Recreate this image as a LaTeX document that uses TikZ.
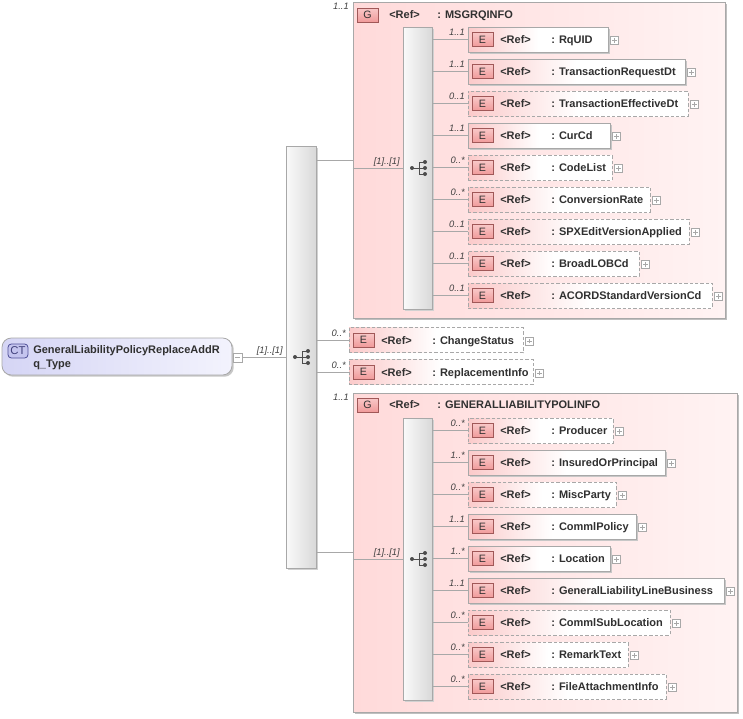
\documentclass[tikz,border=0pt]{standalone}
\usepackage{fontspec}
\setmainfont{Liberation Sans}
\usetikzlibrary{fit,shadows,calc}
\definecolor{ln}{HTML}{A8A8A8}
\definecolor{grpL}{HTML}{FFDADA}
\definecolor{grpR}{HTML}{FFF3F3}
\definecolor{elL}{HTML}{FBCACA}
\definecolor{badgeT}{HTML}{F9C8C8}
\definecolor{badgeB}{HTML}{F09A9A}
\definecolor{badgeD}{HTML}{A05858}
\definecolor{ctL}{HTML}{D5D5F5}
\definecolor{ctR}{HTML}{F3F3FD}
\definecolor{ctbF}{HTML}{C4C4EE}
\definecolor{ctbD}{HTML}{505098}
\definecolor{txt}{HTML}{303030}
\tikzset{
  x=0.75pt, y=-0.75pt,
  every node/.style={text=txt},
  lbl/.style={anchor=west, inner sep=0pt, text height=6pt, text depth=0pt,
    font=\fontsize{8.25pt}{10pt}\selectfont\bfseries},
  conn/.style={draw=ln, line width=0.6pt},
  mult/.style={inner sep=0pt, font=\fontsize{7pt}{8pt}\selectfont\itshape, text=black!75},
  elbox/.style={inner sep=0pt, draw=ln, line width=0.6pt, left color=elL, right color=white, middle color=white},
  solidbox/.style={drop shadow={shadow xshift=1.3pt, shadow yshift=-1.3pt, fill=black!22, opacity=1}},
  dashbox/.style={dash pattern=on 2.5pt off 1.5pt},
  grpbox/.style={inner sep=0pt, draw=ln, line width=0.6pt, left color=grpL, right color=grpR,
    drop shadow={shadow xshift=1.8pt, shadow yshift=-1.8pt, fill=black!25, opacity=1}},
  seqbar/.style={inner sep=0pt, draw=ln, line width=0.6pt, left color=black!2, right color=black!15,
    drop shadow={shadow xshift=1.2pt, shadow yshift=-1.2pt, fill=black!18, opacity=1}},
  ebadge/.style={draw=badgeD, line width=0.5pt, top color=badgeT, bottom color=badgeB,
    minimum width=15.75pt, minimum height=10.5pt, inner sep=0pt,
    font=\fontsize{8pt}{9pt}\selectfont},
  plusbox/.style={draw=ln, fill=white, minimum size=6pt, inner sep=0pt, line width=0.4pt,
    path picture={\draw[ln, line width=0.4pt]
      ([xshift=1.2pt]path picture bounding box.west) -- ([xshift=-1.2pt]path picture bounding box.east)
      ([yshift=1.2pt]path picture bounding box.south) -- ([yshift=-1.2pt]path picture bounding box.north);}},
  minusbox/.style={draw=ln, fill=white, minimum size=6.5pt, inner sep=0pt, line width=0.4pt,
    path picture={\draw[ln, line width=0.4pt]
      ([xshift=1.2pt]path picture bounding box.west) -- ([xshift=-1.2pt]path picture bounding box.east);}},
  ctbox/.style={inner sep=0pt, draw=ln, line width=0.6pt, rounded corners=7pt, left color=ctL, right color=ctR,
    drop shadow={shadow xshift=1.3pt, shadow yshift=-1.3pt, fill=black!22, opacity=1}},
  ctbadge/.style={draw=ctbD, line width=0.6pt, fill=ctbF, rounded corners=2.5pt,
    minimum width=15pt, minimum height=10.5pt, inner sep=0pt, text=ctbD!80!black,
    font=\fontsize{8.5pt}{9pt}\selectfont},
}
% #1 name, #2 y, #3 left, #4 right, #5 style, #6 multiplicity, #7 label, #8 sequence bar
\newcommand\elem[8]{%
  \node[elbox,#5,fit={(#3,#2-12.5) (#4,#2+12.5)}] (#1) {};
  \node[ebadge] (#1b) at (#3+14.5,#2) {E};
  \node[lbl] (#1r) at (#3+32,#2) {<Ref>};
  \node[lbl] (#1n) at (#3+83,#2) {: #7};
  \node[plusbox] (#1p) at (#4+6.5,#2+1) {};
  \draw[conn] (#8.east |- #1.west) -- (#1.west);
  \node[mult,anchor=east] (#1m) at (#3-3,#2-7) {#6};
}
\newcommand\seqsym[2]{%
  \draw[black!70, line width=0.7pt] (#1-6,#2) -- (#1+1,#2) (#1+1,#2-6) -- (#1+1,#2+6)
    (#1+1,#2-6) -- (#1+7,#2-6) (#1+1,#2) -- (#1+7,#2) (#1+1,#2+6) -- (#1+7,#2+6);
  \fill[black!70] (#1-6,#2) circle (1.5pt) (#1+7,#2-6) circle (1.5pt)
    (#1+7,#2) circle (1.5pt) (#1+7,#2+6) circle (1.5pt);
}
\begin{document}
\begin{tikzpicture}
\useasboundingbox (0,0) rectangle (743,718);
\fill[white] (0,0) rectangle (743,718);

% complex type
\node[ctbox, fit={(2,338) (232,375)}] (ct) {};
\node[ctbadge] (ctb) at (18,351) {CT};
\node[lbl] (ct1) at (33,349) {GeneralLiabilityPolicyReplaceAddR};
\node[lbl] (ct2) at (33,363) {q\_Type};
\node[minusbox] (ctm) at (237.5,357.5) {};

% main sequence
\node[seqbar, fit={(286,146) (316,568)}] (m) {};
\seqsym{301}{357}
\draw[conn] (ctm.east) -- (ctm.east -| m.west);
\node[mult, anchor=east] (ctml) at (283,351) {[1]..[1]};

% group 1
\node[grpbox, fit={(353,2) (725,318)}] (g1) {};
\node[ebadge] (g1b) at (367.5,15) {G};
\node[lbl] (g1r) at (389,14) {<Ref>};
\node[lbl] (g1n) at (437,14) {: MSGRQINFO};
\node[mult, anchor=east] (g1m) at (349,6) {1..1};
\node[seqbar, fit={(403,27) (432,309)}] (s1) {};
\seqsym{418}{168}
\draw[conn] (m.east |- g1.west) -- (g1.west);
\draw[conn] (g1.west |- s1.west) -- (s1.west);
\node[mult, anchor=east] (s1m) at (400,162) {[1]..[1]};

\elem{a1}{39.5}{468}{608}{solidbox}{1..1}{RqUID}{s1}
\elem{a2}{71.5}{468}{685}{solidbox}{1..1}{TransactionRequestDt}{s1}
\elem{a3}{103.5}{468}{688}{dashbox}{0..1}{TransactionEffectiveDt}{s1}
\elem{a4}{135.5}{468}{610}{solidbox}{1..1}{CurCd}{s1}
\elem{a5}{167.5}{468}{612}{dashbox}{0..*}{CodeList}{s1}
\elem{a6}{199.5}{468}{650}{dashbox}{0..*}{ConversionRate}{s1}
\elem{a7}{231.5}{468}{689}{dashbox}{0..1}{SPXEditVersionApplied}{s1}
\elem{a8}{263.5}{468}{639}{dashbox}{0..1}{BroadLOBCd}{s1}
\elem{a9}{295.5}{468}{712}{dashbox}{0..1}{ACORDStandardVersionCd}{s1}

% middle elements
\elem{c1}{340}{349}{523}{dashbox}{0..*}{ChangeStatus}{m}
\elem{c2}{372}{349}{533}{dashbox}{0..*}{ReplacementInfo}{m}

% group 2
\node[grpbox, fit={(353,393) (737,712)}] (g2) {};
\node[ebadge] (g2b) at (367.5,405) {G};
\node[lbl] (g2r) at (389,404) {<Ref>};
\node[lbl] (g2n) at (437,404) {: GENERALLIABILITYPOLINFO};
\node[mult, anchor=east] (g2m) at (349,397) {1..1};
\node[seqbar, fit={(403,418) (432,700)}] (s2) {};
\seqsym{418}{559}
\draw[conn] (m.east |- g2.west) -- (g2.west);
\draw[conn] (g2.west |- s2.west) -- (s2.west);
\node[mult, anchor=east] (s2m) at (400,553) {[1]..[1]};

\elem{b1}{430.5}{468}{613}{dashbox}{0..*}{Producer}{s2}
\elem{b2}{462.5}{468}{665}{solidbox}{1..*}{InsuredOrPrincipal}{s2}
\elem{b3}{494.5}{468}{616}{dashbox}{0..*}{MiscParty}{s2}
\elem{b4}{526.5}{468}{636}{solidbox}{1..1}{CommlPolicy}{s2}
\elem{b5}{558.5}{468}{610}{solidbox}{1..*}{Location}{s2}
\elem{b6}{590.5}{468}{724}{solidbox}{1..1}{GeneralLiabilityLineBusiness}{s2}
\elem{b7}{622.5}{468}{670}{dashbox}{0..*}{CommlSubLocation}{s2}
\elem{b8}{654.5}{468}{628}{dashbox}{0..*}{RemarkText}{s2}
\elem{b9}{686.5}{468}{666}{dashbox}{0..*}{FileAttachmentInfo}{s2}
\end{tikzpicture}
\end{document}
